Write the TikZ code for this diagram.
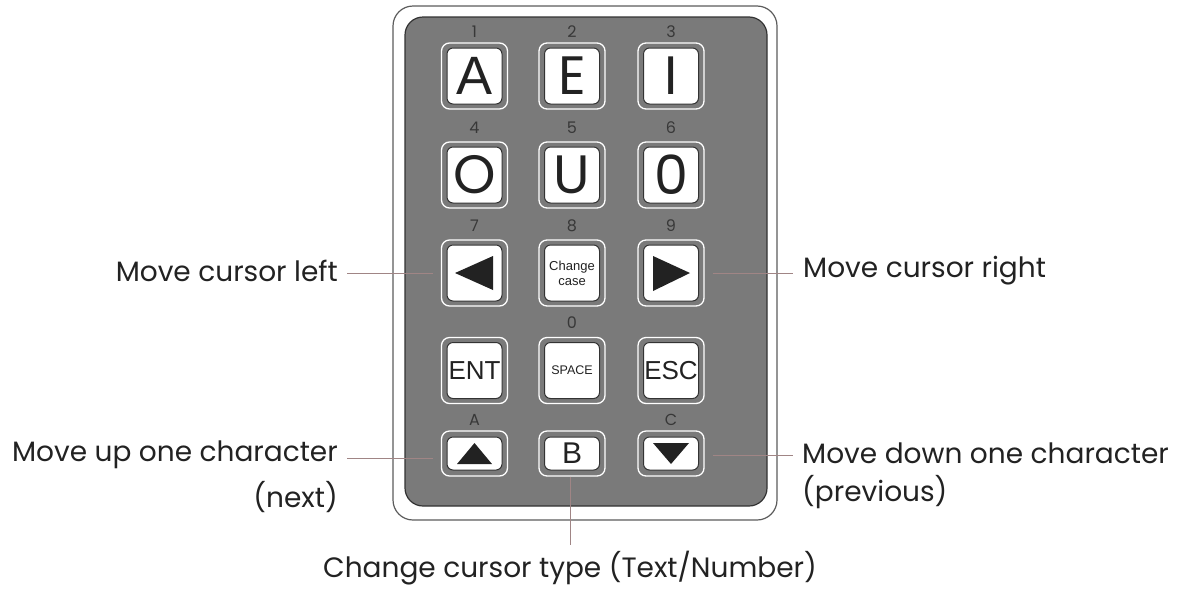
\documentclass[tikz,border=0pt]{standalone}
\usepackage{fontspec}
\setmainfont{Poppins}
\newfontfamily\keyfont{Liberation Sans}
\definecolor{panel}{HTML}{7A7A7A}
\definecolor{edge}{HTML}{333333}
\definecolor{callout}{HTML}{A08585}
\definecolor{ink}{HTML}{222222}
\begin{document}
\begin{tikzpicture}[x=1pt,y=-1pt,
  keyring/.style={draw=white,line width=1.3pt,rounded corners=8pt,minimum width=66pt,minimum height=66pt,inner sep=0pt},
  keyring5/.style={keyring,minimum height=45pt},
  keycap/.style={draw=edge,fill=white,line width=1pt,rounded corners=6pt,minimum width=55pt,minimum height=56pt,inner sep=0pt,text=ink},
  keycap5/.style={keycap,minimum height=33pt},
  numlbl/.style={font=\fontsize{16}{16}\selectfont,text=ink!90,inner sep=0pt},
  lbl/.style={font=\fontsize{28}{32}\selectfont,text=ink,inner sep=0pt},
  cline/.style={draw=callout,line width=1pt},
  tri/.style={fill=ink}
]
\useasboundingbox (0,0) rectangle (1182,595);
% body
\draw[draw=edge!80,line width=1.2pt,fill=white,rounded corners=20pt] (393,6) rectangle (777,520);
\draw[draw=edge,line width=1.2pt,fill=panel,rounded corners=18pt] (405,17) rectangle (767,506);
% keys
\foreach \r/\y in {1/76,2/175,3/273,4/370.5}{
  \foreach \c/\x in {1/474.5,2/572,3/671}{
    \node[keyring] (r\r\c) at (\x,\y) {};
    \node[keycap] (k\r\c) at (\x,\y) {};
  }
}
\foreach \c/\x in {1/474.5,2/572,3/671}{
  \node[keyring5] (r5\c) at (\x,453.5) {};
  \node[keycap5] (k5\c) at (\x,453.5) {};
}
% key labels
\node[font=\keyfont\fontsize{54}{54}\selectfont,text=ink] at (k11) {A};
\node[font=\fontsize{54}{54}\selectfont,text=ink] at (k12) {E};
\node[font=\fontsize{54}{54}\selectfont,text=ink] at (k13) {I};
\node[font=\fontsize{54}{54}\selectfont,text=ink] at (k21) {O};
\node[font=\fontsize{54}{54}\selectfont,text=ink] at (k22) {U};
\node[font=\fontsize{54}{54}\selectfont,text=ink] at (k23) {0};
\fill[tri] (455,273) -- (493,256) -- (493,290) -- cycle;
\fill[tri] (690,273) -- (653,256) -- (653,291) -- cycle;
\node[font=\keyfont\fontsize{13}{15}\selectfont,text=ink,align=center] at (k32) {Change\\case};
\node[font=\keyfont\fontsize{26}{26}\selectfont,text=ink] at (k41) {ENT};
\node[font=\keyfont\fontsize{12.5}{12.5}\selectfont,text=ink] at (k42) {SPACE};
\node[font=\keyfont\fontsize{26}{26}\selectfont,text=ink] at (k43) {ESC};
\fill[tri] (474.5,443) -- (457,464) -- (492,464) -- cycle;
\node[font=\keyfont\fontsize{30}{30}\selectfont,text=ink] at (k52) {B};
\fill[tri] (671,464) -- (653,443) -- (689,443) -- cycle;
% numbers
\foreach \t/\x/\y in {1/474.5/32,2/572/32,3/671/32,4/474.5/128,5/572/128,6/671/128,7/474.5/226,8/572/226,9/671/226,0/572/323,A/474.5/420,C/671/420}{
  \node[numlbl] at (\x,\y) {\t};
}
% callouts
\node[lbl,anchor=east] (tleft) at (338,271) {Move cursor left};
\node[lbl,anchor=west] (tright) at (803,271) {Move cursor right};
\node[lbl,anchor=east] (tup) at (338,455) {Move up one character};
\node[lbl,anchor=east] (tnext) at (338,497) {(next)};
\node[lbl,anchor=west] (tdown) at (802,453) {Move down one character};
\node[lbl,anchor=west] (tprev) at (802,492) {(previous)};
\node[lbl] (ttype) at (570,568) {Change cursor type (Text/Number)};
\coordinate (eleft) at (347,273);
\coordinate (eright) at (793,273);
\coordinate (eup) at (347,458);
\coordinate (edown) at (793,455);
\coordinate (etype) at (570.5,545);
\draw[cline,shorten <=8pt] (r31.west |- eleft) -- (eleft);
\draw[cline,shorten <=8pt] (r33.east |- eright) -- (eright);
\draw[cline,shorten <=8pt] (r51.west |- eup) -- (eup);
\draw[cline,shorten <=8pt] (r53.east |- edown) -- (edown);
\draw[cline] (r52.south -| etype) -- (etype);
\end{tikzpicture}
\end{document}
